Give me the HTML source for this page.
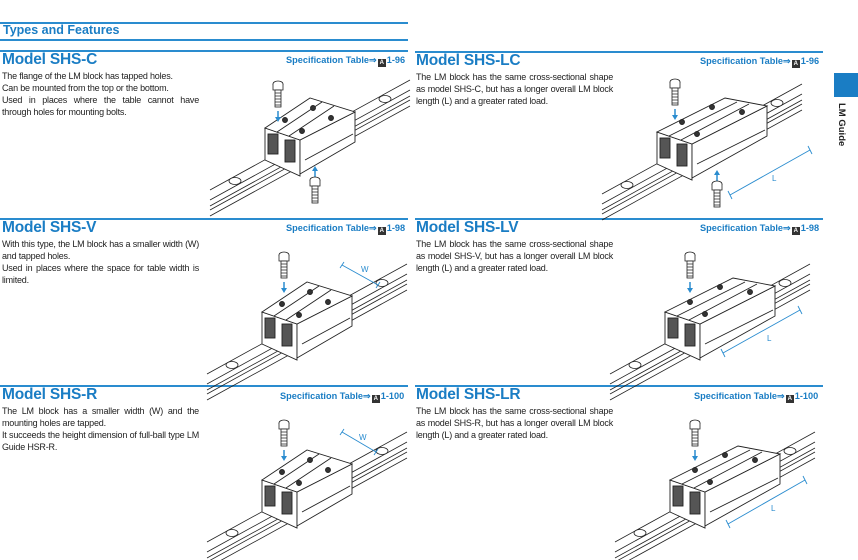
<!DOCTYPE html>
<html><head><meta charset="utf-8"><style>
*{margin:0;padding:0;box-sizing:border-box}
body{width:858px;height:560px;background:#fff;position:relative;overflow:hidden;font-family:"Liberation Sans",Arial,sans-serif;color:#222}
.a{position:absolute}
.rule{position:absolute;height:1.5px;background:#2a8ccf}
.h{position:absolute;font-weight:bold;color:#1a7dc4;font-size:15.5px;letter-spacing:-0.2px}
.sp{position:absolute;font-weight:bold;color:#1a7dc4;font-size:9.2px}
.sp b{display:inline-block;width:8px;height:8px;background:#333;color:#fff;font-size:6px;line-height:8px;text-align:center;vertical-align:-1px;margin:0 1px}
.t{position:absolute;font-size:9px;line-height:12px;color:#222;text-align:justify;letter-spacing:-0.2px;width:197px}
svg{position:absolute;left:0;top:0}
</style></head><body>
<div class="rule" style="left:0;top:22px;width:408px"></div>
<div class="a" style="left:3px;top:23px;font-size:12.5px;font-weight:bold;color:#1a7dc4">Types and Features</div>
<div class="rule" style="left:0;top:39px;width:408px"></div>

<div class="rule" style="left:0;top:50px;width:408px"></div>
<div class="h" style="left:2px;top:51px">Model SHS-C</div>
<div class="sp" style="left:286px;top:55px">Specification Table⇒<b>A</b>1-96</div>
<div class="t" style="left:2px;top:70px">The flange of the LM block has tapped holes.<br>Can be mounted from the top or the bottom.<br>Used in places where the table cannot have through holes for mounting bolts.</div>

<div class="rule" style="left:0;top:218px;width:408px"></div>
<div class="h" style="left:2px;top:219px">Model SHS-V</div>
<div class="sp" style="left:286px;top:223px">Specification Table⇒<b>A</b>1-98</div>
<div class="t" style="left:2px;top:238px">With this type, the LM block has a smaller width (W) and tapped holes.<br>Used in places where the space for table width is limited.</div>

<div class="rule" style="left:0;top:385px;width:408px"></div>
<div class="h" style="left:2px;top:386px">Model SHS-R</div>
<div class="sp" style="left:280px;top:391px">Specification Table⇒<b>A</b>1-100</div>
<div class="t" style="left:2px;top:405px">The LM block has a smaller width (W) and the mounting holes are tapped.<br>It succeeds the height dimension of full-ball type LM Guide HSR-R.</div>

<div class="rule" style="left:415px;top:51px;width:408px"></div>
<div class="h" style="left:416px;top:52px">Model SHS-LC</div>
<div class="sp" style="left:700px;top:56px">Specification Table⇒<b>A</b>1-96</div>
<div class="t" style="left:416px;top:71px">The LM block has the same cross-sectional shape as model SHS-C, but has a longer overall LM block length (L) and a greater rated load.</div>

<div class="rule" style="left:415px;top:218px;width:408px"></div>
<div class="h" style="left:416px;top:219px">Model SHS-LV</div>
<div class="sp" style="left:700px;top:223px">Specification Table⇒<b>A</b>1-98</div>
<div class="t" style="left:416px;top:238px">The LM block has the same cross-sectional shape as model SHS-V, but has a longer overall LM block length (L) and a greater rated load.</div>

<div class="rule" style="left:415px;top:385px;width:408px"></div>
<div class="h" style="left:416px;top:386px">Model SHS-LR</div>
<div class="sp" style="left:694px;top:391px">Specification Table⇒<b>A</b>1-100</div>
<div class="t" style="left:416px;top:405px">The LM block has the same cross-sectional shape as model SHS-R, but has a longer overall LM block length (L) and a greater rated load.</div>

<div class="a" style="left:834px;top:73px;width:24px;height:24px;background:#1a7dc4"></div>
<div class="a" style="left:833px;top:103px;width:14px;height:50px;writing-mode:vertical-rl;font-size:9.5px;font-weight:bold;color:#222">LM Guide</div>

<svg width="858" height="560" viewBox="0 0 858 560">
<defs>
<g id="rail" fill="none" stroke="#222" stroke-width="0.8">
<path d="M-55 62 L145 -48 M-55 72 L145 -38 M-55 78 L145 -32 M-55 82 L145 -28 M-55 88 L145 -22"/>
<ellipse cx="-30" cy="53" rx="6" ry="3.5" fill="#fff"/>
<ellipse cx="120" cy="-29" rx="6" ry="3.5" fill="#fff"/>
</g>
<g id="bolt" stroke="#222" stroke-width="0.8" fill="#fff">
<ellipse cx="0" cy="0" rx="5" ry="3"/>
<path d="M-5 0 V6 H5 V0"/>
<rect x="-3" y="6" width="6" height="17"/>
<path d="M-3 9 H3 M-3 12 H3 M-3 15 H3 M-3 18 H3 M-3 21 H3" fill="none"/>
</g>
<g id="arrD"><path d="M0 0 V8" stroke="#2a8ccf" stroke-width="1.5"/><path d="M-3 6 L0 11 L3 6 Z" fill="#2a8ccf"/></g>
<g id="arrU"><path d="M0 11 V3" stroke="#2a8ccf" stroke-width="1.5"/><path d="M-3 5 L0 0 L3 5 Z" fill="#2a8ccf"/></g>
<g id="blkS" stroke="#222" stroke-width="0.9" fill="#fff">
<polygon points="0,0 35,12 35,48 0,32"/>
<polygon points="35,12 90,-16 90,14 35,46"/>
<polygon points="0,0 45,-30 90,-16 35,12"/>
<path d="M12 4 L57 -26 M24 8 L69 -22" fill="none"/>
<rect x="3" y="6" width="10" height="20" fill="#555"/>
<rect x="20" y="12" width="10" height="22" fill="#555"/>
<circle cx="20" cy="-8" r="2.5" fill="#333"/><circle cx="48" cy="-20" r="2.5" fill="#333"/>
<circle cx="37" cy="3" r="2.5" fill="#333"/><circle cx="66" cy="-10" r="2.5" fill="#333"/>
<path d="M40 32 L88 6" fill="none"/>
</g>
<g id="blkL" stroke="#222" stroke-width="0.9" fill="#fff">
<polygon points="0,0 35,12 35,48 0,32"/>
<polygon points="35,12 110,-26 110,4 35,46"/>
<polygon points="0,0 68,-34 110,-26 35,12"/>
<path d="M12 4 L80 -30 M24 8 L92 -28" fill="none"/>
<rect x="3" y="6" width="10" height="20" fill="#555"/>
<rect x="20" y="12" width="10" height="22" fill="#555"/>
<circle cx="25" cy="-10" r="2.5" fill="#333"/><circle cx="55" cy="-25" r="2.5" fill="#333"/>
<circle cx="40" cy="2" r="2.5" fill="#333"/><circle cx="85" cy="-20" r="2.5" fill="#333"/>
<path d="M40 32 L108 -2" fill="none"/>
</g>
</defs>
<g transform="translate(265,128)"><use href="#rail"/><use href="#blkS"/>
<use href="#bolt" transform="translate(13,-44)"/><use href="#arrD" transform="translate(13,-17)"/>
<use href="#arrU" transform="translate(50,38)"/><use href="#bolt" transform="translate(50,52)"/></g>
<g transform="translate(657,132)"><use href="#rail"/><use href="#blkL"/>
<use href="#bolt" transform="translate(18,-50)"/><use href="#arrD" transform="translate(18,-23)"/>
<use href="#arrU" transform="translate(60,38)"/><use href="#bolt" transform="translate(60,52)"/></g>
<path d="M730 195 L810 150 M728 191 L732 199 M808 146 L812 154" stroke="#2a8ccf" stroke-width="0.9" fill="none"/>
<text x="772" y="181" font-size="8" fill="#2a8ccf" font-family="Liberation Sans,sans-serif">L</text>
<g transform="translate(262,312)"><use href="#rail"/><use href="#blkS"/>
<use href="#bolt" transform="translate(22,-57)"/><use href="#arrD" transform="translate(22,-30)"/></g>
<path d="M342 265 L378 285 M340 268 L344 262 M376 288 L380 282" stroke="#2a8ccf" stroke-width="0.9" fill="none"/>
<text x="361" y="272" font-size="8" fill="#2a8ccf" font-family="Liberation Sans,sans-serif">W</text>
<g transform="translate(665,312)"><use href="#rail"/><use href="#blkL"/>
<use href="#bolt" transform="translate(25,-57)"/><use href="#arrD" transform="translate(25,-30)"/></g>
<path d="M723 353 L800 310 M721 349 L725 357 M798 306 L802 314" stroke="#2a8ccf" stroke-width="0.9" fill="none"/>
<text x="767" y="341" font-size="8" fill="#2a8ccf" font-family="Liberation Sans,sans-serif">L</text>
<g transform="translate(262,480)"><use href="#rail"/><use href="#blkS"/>
<use href="#bolt" transform="translate(22,-57)"/><use href="#arrD" transform="translate(22,-30)"/></g>
<path d="M342 432 L376 452 M340 435 L344 429 M374 455 L378 449" stroke="#2a8ccf" stroke-width="0.9" fill="none"/>
<text x="359" y="440" font-size="8" fill="#2a8ccf" font-family="Liberation Sans,sans-serif">W</text>
<g transform="translate(670,480)"><use href="#rail"/><use href="#blkL"/>
<use href="#bolt" transform="translate(25,-57)"/><use href="#arrD" transform="translate(25,-30)"/></g>
<path d="M728 524 L805 480 M726 520 L730 528 M803 476 L807 484" stroke="#2a8ccf" stroke-width="0.9" fill="none"/>
<text x="771" y="511" font-size="8" fill="#2a8ccf" font-family="Liberation Sans,sans-serif">L</text>
</svg>
</body></html>
